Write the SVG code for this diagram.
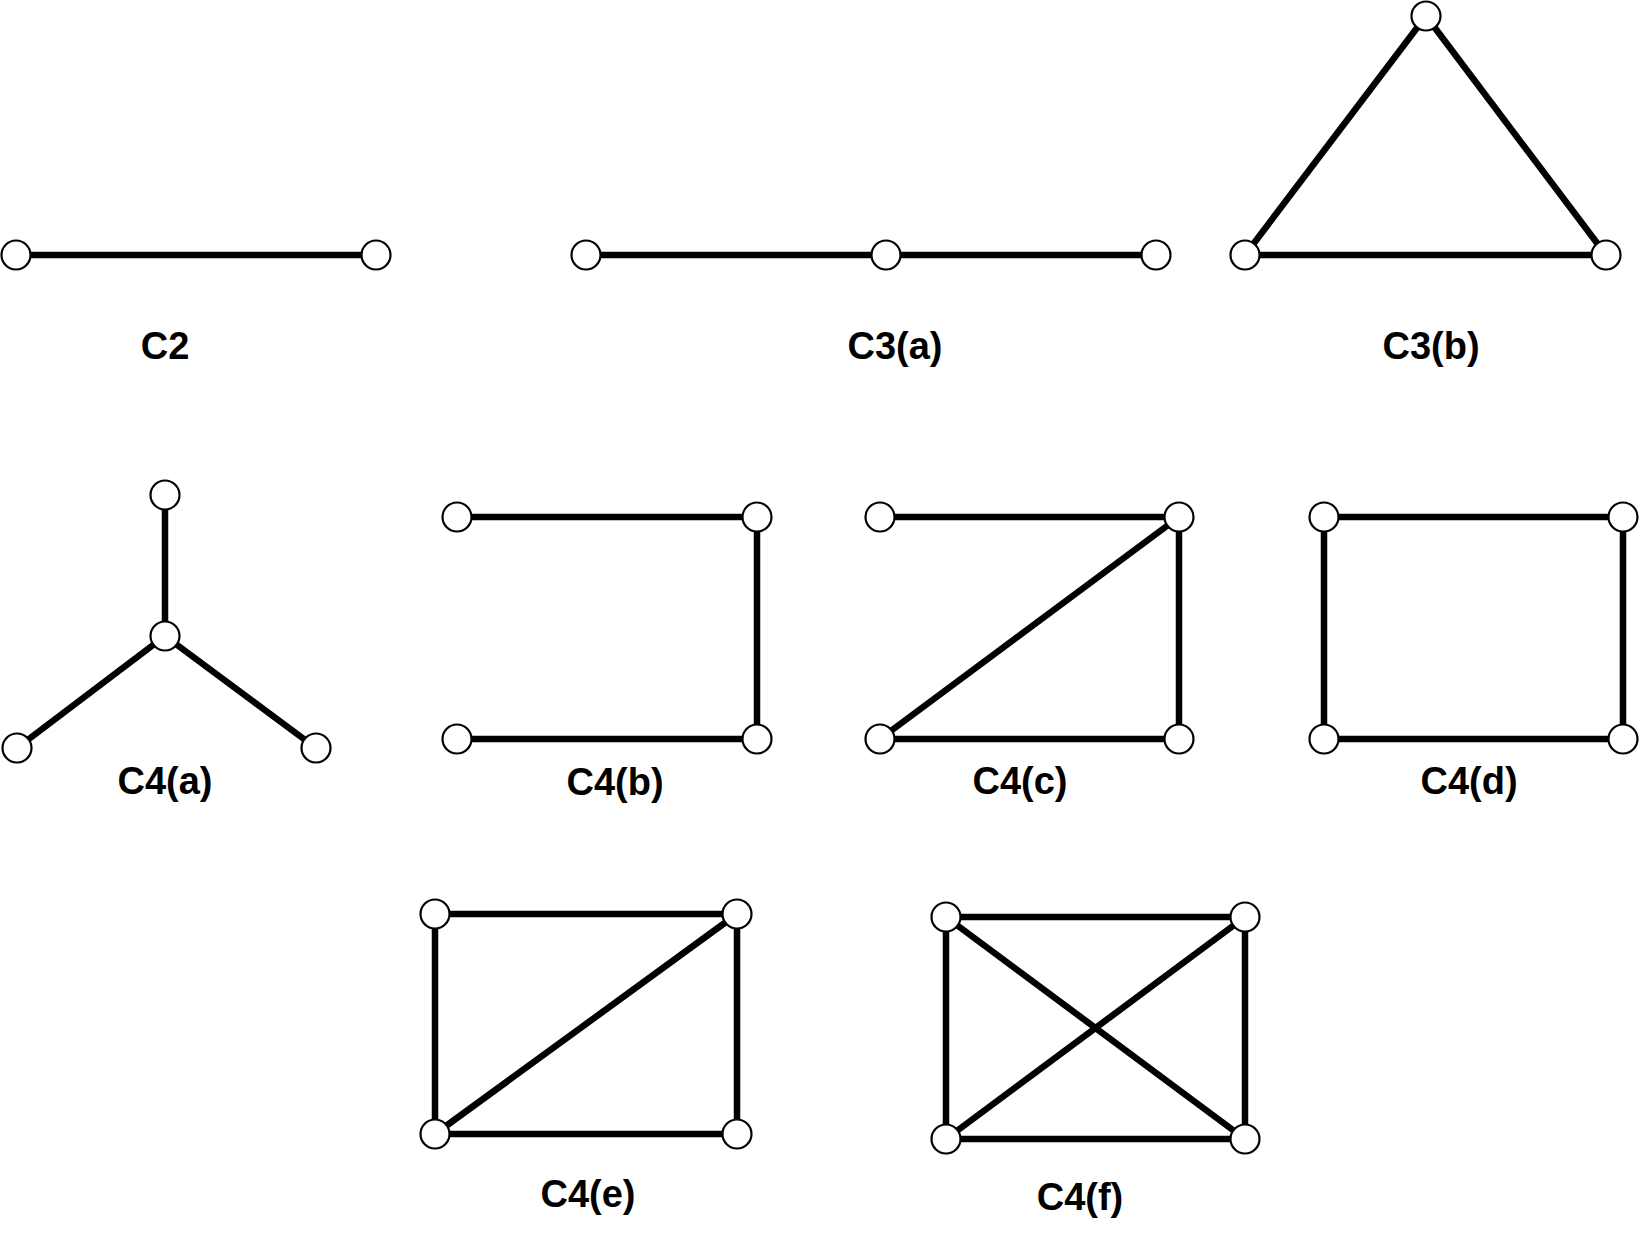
<svg xmlns="http://www.w3.org/2000/svg" width="1641" height="1242" viewBox="0 0 1641 1242">
<style>
.e{stroke:#000;stroke-width:6.5;fill:none}
.n{fill:#fff;stroke:#000;stroke-width:2.2}
.t{font-family:"Liberation Sans",Arial,sans-serif;font-weight:bold;font-size:38px;text-anchor:middle;fill:#000}
</style>
<rect width="1641" height="1242" fill="#fff"/>
<g id="connectors">
<line class="e" x1="16" y1="255" x2="376" y2="255"/>
<line class="e" x1="586" y1="255" x2="886" y2="255"/>
<line class="e" x1="886" y1="255" x2="1156" y2="255"/>
<line class="e" x1="1426" y1="16" x2="1245" y2="255"/>
<line class="e" x1="1426" y1="16" x2="1606" y2="255"/>
<line class="e" x1="1245" y1="255" x2="1606" y2="255"/>
<line class="e" x1="165" y1="495" x2="165" y2="636"/>
<line class="e" x1="165" y1="636" x2="17" y2="748"/>
<line class="e" x1="165" y1="636" x2="316" y2="748"/>
<line class="e" x1="457" y1="517" x2="757" y2="517"/>
<line class="e" x1="757" y1="517" x2="757" y2="739"/>
<line class="e" x1="457" y1="739" x2="757" y2="739"/>
<line class="e" x1="880" y1="517" x2="1179" y2="517"/>
<line class="e" x1="1179" y1="517" x2="1179" y2="739"/>
<line class="e" x1="880" y1="739" x2="1179" y2="739"/>
<line class="e" x1="880" y1="739" x2="1179" y2="517"/>
<line class="e" x1="1324" y1="517" x2="1623" y2="517"/>
<line class="e" x1="1324" y1="739" x2="1623" y2="739"/>
<line class="e" x1="1324" y1="517" x2="1324" y2="739"/>
<line class="e" x1="1623" y1="517" x2="1623" y2="739"/>
<line class="e" x1="435" y1="914" x2="737" y2="914"/>
<line class="e" x1="435" y1="1134" x2="737" y2="1134"/>
<line class="e" x1="435" y1="914" x2="435" y2="1134"/>
<line class="e" x1="737" y1="914" x2="737" y2="1134"/>
<line class="e" x1="435" y1="1134" x2="737" y2="914"/>
<line class="e" x1="946" y1="917" x2="1245" y2="917"/>
<line class="e" x1="946" y1="1139" x2="1245" y2="1139"/>
<line class="e" x1="946" y1="917" x2="946" y2="1139"/>
<line class="e" x1="1245" y1="917" x2="1245" y2="1139"/>
<line class="e" x1="946" y1="917" x2="1245" y2="1139"/>
<line class="e" x1="946" y1="1139" x2="1245" y2="917"/>
</g>
<g id="C2"><circle class="n" cx="16" cy="255" r="14.5"/><circle class="n" cx="376" cy="255" r="14.5"/><text class="t" x="165" y="359">C2</text></g>
<g id="C3a"><circle class="n" cx="586" cy="255" r="14.5"/><circle class="n" cx="886" cy="255" r="14.5"/><circle class="n" cx="1156" cy="255" r="14.5"/><text class="t" x="895" y="359">C3(a)</text></g>
<g id="C3b"><circle class="n" cx="1426" cy="16" r="14.5"/><circle class="n" cx="1245" cy="255" r="14.5"/><circle class="n" cx="1606" cy="255" r="14.5"/><text class="t" x="1431" y="359">C3(b)</text></g>
<g id="C4a"><circle class="n" cx="165" cy="495" r="14.5"/><circle class="n" cx="165" cy="636" r="14.5"/><circle class="n" cx="17" cy="748" r="14.5"/><circle class="n" cx="316" cy="748" r="14.5"/><text class="t" x="165" y="794">C4(a)</text></g>
<g id="C4b"><circle class="n" cx="457" cy="517" r="14.5"/><circle class="n" cx="757" cy="517" r="14.5"/><circle class="n" cx="457" cy="739" r="14.5"/><circle class="n" cx="757" cy="739" r="14.5"/><text class="t" x="615" y="795">C4(b)</text></g>
<g id="C4c"><circle class="n" cx="880" cy="517" r="14.5"/><circle class="n" cx="1179" cy="517" r="14.5"/><circle class="n" cx="880" cy="739" r="14.5"/><circle class="n" cx="1179" cy="739" r="14.5"/><text class="t" x="1020" y="794">C4(c)</text></g>
<g id="C4d"><circle class="n" cx="1324" cy="517" r="14.5"/><circle class="n" cx="1623" cy="517" r="14.5"/><circle class="n" cx="1324" cy="739" r="14.5"/><circle class="n" cx="1623" cy="739" r="14.5"/><text class="t" x="1469" y="794">C4(d)</text></g>
<g id="C4e"><circle class="n" cx="435" cy="914" r="14.5"/><circle class="n" cx="737" cy="914" r="14.5"/><circle class="n" cx="435" cy="1134" r="14.5"/><circle class="n" cx="737" cy="1134" r="14.5"/><text class="t" x="588" y="1207">C4(e)</text></g>
<g id="C4f"><circle class="n" cx="946" cy="917" r="14.5"/><circle class="n" cx="1245" cy="917" r="14.5"/><circle class="n" cx="946" cy="1139" r="14.5"/><circle class="n" cx="1245" cy="1139" r="14.5"/><text class="t" x="1080" y="1210">C4(f)</text></g>
</svg>
